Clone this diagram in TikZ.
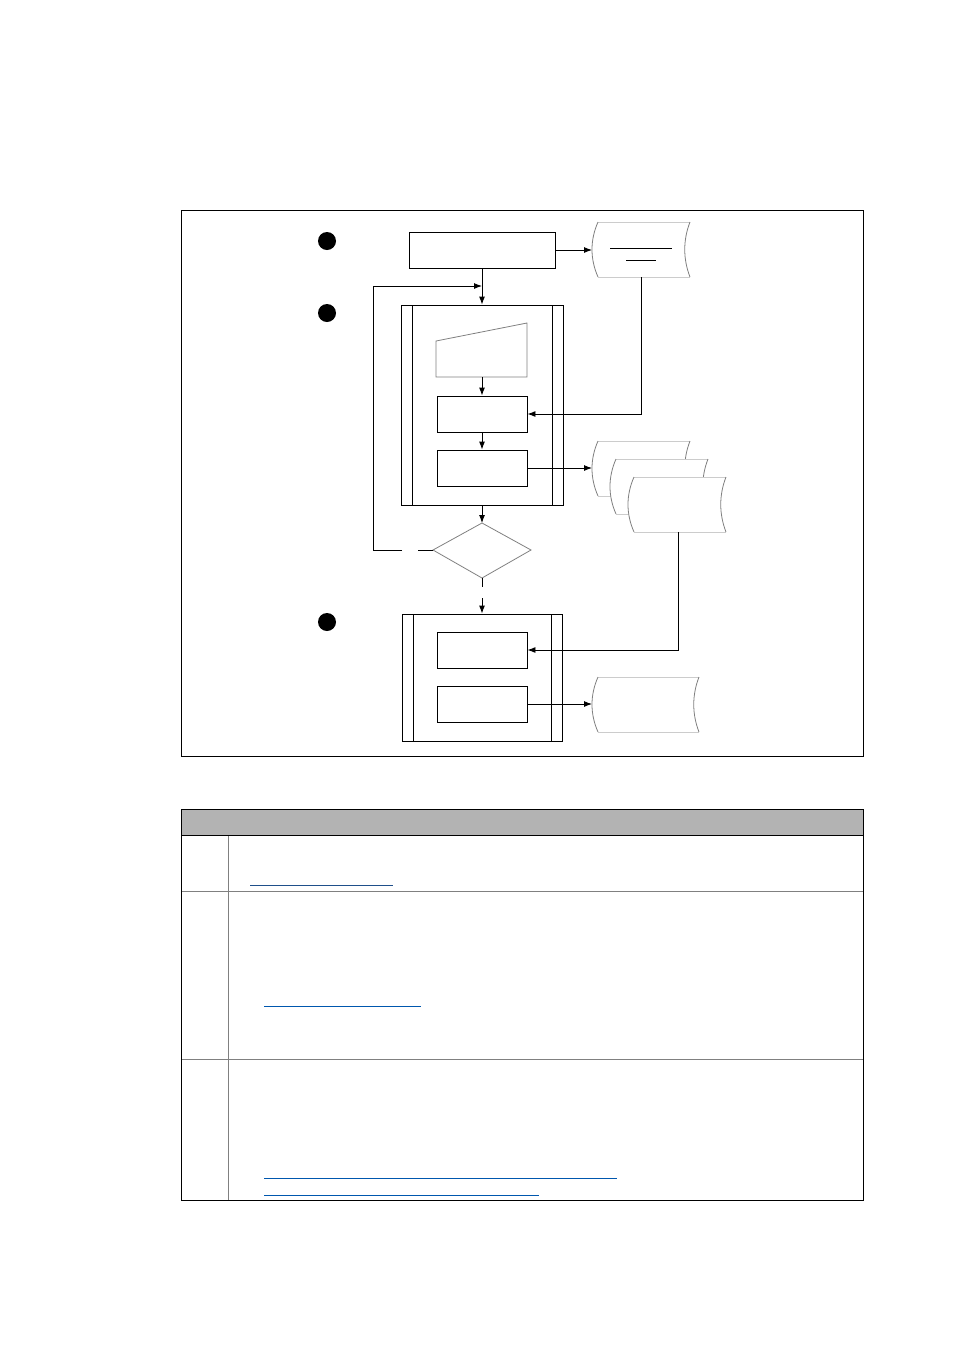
\documentclass[tikz,border=0pt]{standalone}
\usetikzlibrary{arrows.meta}
\definecolor{hdrgray}{HTML}{B3B3B3}
\definecolor{linkdark}{HTML}{1F4F8A}
\definecolor{linkblue}{HTML}{0057AE}
\tikzset{
  proc/.style={draw=black,line width=0.9pt,minimum width=90pt,minimum height=36pt,inner sep=0pt},
  mainbox/.style={draw=black,line width=0.9pt,minimum width=146pt,minimum height=36pt,inner sep=0pt},
  conn/.style={line width=0.9pt,draw=black},
  arr/.style={conn,-{Latex[length=8pt,width=6pt]}},
  dot/.style={circle,fill=black,minimum size=18pt,inner sep=0pt},
  pics/doc/.style={code={
    \fill[white] (0,0) .. controls (-8,18) and (-8,37) .. (0,55) -- (#1,55)
        .. controls ({#1-7},37) and ({#1-7},18) .. (#1,0) -- cycle;
    \draw[gray!40,line width=0.8pt] (0,0) -- (#1,0) (0,55) -- (#1,55);
    \draw[gray,line width=0.8pt] (0,0) .. controls (-8,18) and (-8,37) .. (0,55);
    \draw[gray,line width=0.8pt] (#1,0) .. controls ({#1-7},18) and ({#1-7},37) .. (#1,55);
  }}
}
\begin{document}
\begin{tikzpicture}[x=1pt,y=-1pt]
\useasboundingbox (0,0) rectangle (954,1350);
% frame
\draw[line width=0.8pt] (181,210) rectangle (863,756);
% dots
\node[dot] (n1) at (327,241) {};
\node[dot] (n2) at (327,313) {};
\node[dot] (n3) at (327,622) {};
% top box
\node[mainbox] (A) at (482,250) {};
% doc 1
\pic at (598,222) {doc=92};
\draw[line width=0.9pt] (610,248) -- (672,248) (626,260) -- (656,260);
\coordinate (d1w) at (592,250);
\coordinate (d1s) at (641,277);
\draw[arr] (A.east) -- (d1w);
% loop box
\node[draw=black,line width=0.9pt,minimum width=162pt,minimum height=200pt,inner sep=0pt] (L) at (482,405) {};
\draw[line width=0.9pt] (412,305) -- (412,505) (552,305) -- (552,505);
% manual input
\draw[gray,line width=0.8pt] (436,341) -- (527,323) -- (527,377) -- (436,377) -- cycle;
\coordinate (mi) at (482,377);
\node[proc] (C) at (482,414) {};
\node[proc] (D) at (482,468) {};
\draw[arr] (A.south) -- (L.north);
\draw[arr] (mi) -- (C.north);
\draw[arr] (C.south) -- (D.north);
\draw[arr] (d1s) -- (641,414) -- (C.east);
% doc stack
\pic at (598,441) {doc=92};
\pic at (616,459) {doc=92};
\pic at (634,477) {doc=92};
\coordinate (d2w) at (592,468);
\coordinate (d2s) at (678,532);
\draw[arr] (D.east) -- (d2w);
% diamond
\draw[gray,line width=0.8pt] (433,550) -- (482,523) -- (531,550) -- (482,578) -- cycle;
\coordinate (Dt) at (482,523);
\coordinate (Dl) at (433,550);
\coordinate (Db) at (482,578);
\draw[arr] (L.south) -- (Dt);
\coordinate (g1) at (418,550);
\coordinate (g2) at (402,550);
\draw[conn] (Dl) -- (g1);
\draw[arr] (g2) -- (373,550) -- (373,286) -- (482,286);
% second process box
\node[draw=black,line width=0.9pt,minimum width=160pt,minimum height=127pt,inner sep=0pt] (P) at (482,677.5) {};
\draw[line width=0.9pt] (413,614) -- (413,741) (551,614) -- (551,741);
\coordinate (g3) at (482,587);
\coordinate (g4) at (482,598);
\draw[conn] (Db) -- (g3);
\draw[arr] (g4) -- (P.north);
\node[proc] (E) at (482,650) {};
\node[proc] (F) at (482,704) {};
\draw[arr] (d2s) -- (678,650) -- (E.east);
% doc 3
\pic at (598,677) {doc=101};
\coordinate (d3w) at (592,704);
\draw[arr] (F.east) -- (d3w);
% table
\fill[hdrgray] (181,809) rectangle (863,835);
\draw[gray,line width=0.9pt] (181,891) -- (863,891) (181,1059) -- (863,1059) (228,835) -- (228,1200);
\draw[black,line width=0.9pt] (181,835) -- (863,835);
\draw[black,line width=0.9pt] (181,809) rectangle (863,1200);
\draw[linkdark,line width=0.9pt] (250,885) -- (393,885);
\draw[linkblue,line width=0.9pt] (264,1006) -- (421,1006);
\draw[linkblue,line width=0.9pt] (264,1178) -- (617,1178);
\draw[linkblue,line width=0.9pt] (264,1195) -- (539,1195);
\end{tikzpicture}
\end{document}
